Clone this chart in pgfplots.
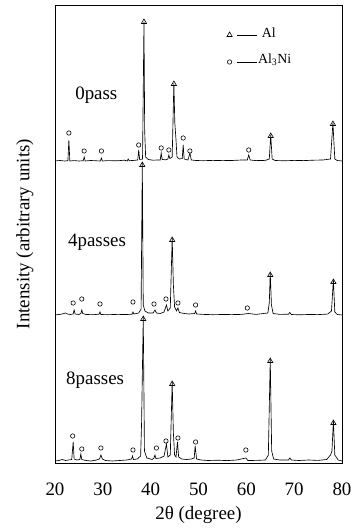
\documentclass[border=0pt]{standalone}
\usepackage{pgfplots}
\pgfplotsset{compat=1.18}
\usepackage{fontspec}
\setmainfont{Liberation Serif}
\begin{document}
\begin{tikzpicture}
\begin{axis}[
  scale only axis, width=287bp, height=458bp,
  xmin=20, xmax=80, ymin=0, ymax=458,
  xtick={20,30,...,80}, ytick=\empty,
  major tick length=0pt,
  axis line style={line width=0.7pt},
  /pgf/number format/assume math mode=true,
  ticklabel style={font=\fontsize{19}{22}\selectfont},
  xticklabel style={yshift=-16bp},
  label style={font=\fontsize{19}{22}\selectfont},
  xlabel={2θ (degree)},
  ylabel={Intensity (arbitrary units)},
  xlabel style={at={(axis description cs:0.5,-0.1135)}, anchor=center},
  ylabel style={at={(axis description cs:-0.105,0.5)}, anchor=center, rotate=0},
  clip=false,
]
% 0 pass
\addplot[black, line width=0.65pt] coordinates {
(20,302)(21,302.5)(22,302)(22.7,302.3)(22.9,323)(23.1,302)(24,302.4)(25,302)(25.9,302.3)(26.1,306)(26.3,302)
(27.5,302.5)(29.5,302)(29.7,305)(29.9,302)(31,302.4)(33,302.2)(34.5,302.8)(35.1,302)(35.3,304)(35.5,302.3)
(36.5,302.6)(37.3,303)(37.5,313)(37.7,303.5)(38.3,304)(38.6,441)(38.75,332)(38.95,306)(39.5,303.5)(40.5,302.8)
(41.5,303)(42.0,303)(42.2,310)(42.4,303.5)(43.2,303.2)(43.6,304)(43.8,308)(44.0,304.5)(44.5,306)(44.85,380)
(45.05,340)(45.3,323)(45.5,306)(46.0,304)(46.6,304.5)(46.8,318)(47.0,304)(47.8,303)(48.2,310)(48.5,303)
(49.5,302.5)(51,302.3)(53,302.6)(55,302.4)(57,302.5)(59,303)(60.2,303)(60.5,308)(60.8,303)(62,302.4)
(64,302.6)(64.8,304)(65.1,328)(65.4,304)(66,302.5)(68,302.2)(70,302.6)(72,302.4)(74,302.8)(76,303)
(77.6,304)(78.1,340)(78.5,304)(79,302.5)(80,302)};
% 4 passes
\addplot[black, line width=0.65pt] coordinates {
(20,148)(20.8,148.5)(21.5,149)(22.2,150)(22.6,149)(23.2,148.5)(23.8,149)(24.0,153)(24.2,149)(25.0,148.5)
(25.4,149.5)(25.6,153)(25.8,149.5)(26.5,148.5)(28,148.3)(29.2,148.8)(29.4,151)(29.6,148.5)(31,148.3)
(33,148.6)(35,148.5)(36.1,148.8)(36.3,151)(36.5,149)(37.5,150)(38.0,154)(38.25,300)(38.45,158)(38.8,152)
(39.5,150)(40.5,150)(40.9,153)(41.2,150)(42.0,149.5)(42.8,151)(43.3,158)(43.6,152)(44.1,155)(44.5,225)
(44.75,178)(45.0,156)(45.4,152)(45.7,155)(46.0,150.5)(47,149.5)(48,149)(49.2,149.5)(49.4,152)(49.6,149)
(51,148.6)(53,148.3)(55,148.5)(57,148.4)(59,148.6)(60.4,149.5)(62,148.6)(64.5,150)(64.8,160)(65.0,190)
(65.25,158)(65.6,149.5)(67,148.6)(68.8,148.8)(69.1,150.5)(69.4,148.5)(71,148.2)(73,148.5)(75,148.4)
(77,148.9)(77.8,152)(78.2,183)(78.5,151)(79,148.5)(80,148)};
% 8 passes
\addplot[black, line width=0.65pt] coordinates {
(20,2)(20.8,2.5)(21.5,3.5)(22.2,2.5)(22.8,3)(23.5,3.5)(23.8,21)(24.0,4)(24.6,3)(25.2,3.5)(25.4,9)(25.6,3.5)
(26.5,2.5)(27.5,2)(28.5,2.8)(29.3,4)(29.6,8)(29.9,4)(30.5,2.5)(32,2)(33.5,2.5)(35,3)(36.0,4)(36.2,7)
(36.4,3.5)(37.2,4)(37.9,7)(38.1,40)(38.45,146)(38.7,12)(39.2,5)(40.3,3.5)(40.7,5)(40.9,8)(41.1,4.5)(42,5)
(42.8,7)(43.3,19)(43.6,6)(44.1,8)(44.5,81)(44.75,30)(45.0,8)(45.3,6)(45.6,21)(45.85,6)(46.5,4)(47.5,3.5)
(48.5,4)(49.1,5)(49.3,17)(49.6,4)(50.5,3)(52,2.5)(54,2.8)(56,2.4)(58,3)(59.9,5)(60.3,2.5)(62,2.6)(64.0,3)
(64.6,8)(65.0,104)(65.3,12)(65.7,4)(67,3)(68.8,3)(69.1,5)(69.4,3)(71,2.5)(73,3)(75,2.6)(76.8,3.5)(77.6,8)
(77.9,12)(78.2,42)(78.5,8)(79.2,3)(80,2)};
% Al markers
\addplot[black, only marks, mark=triangle, mark size=3bp, mark options={line width=0.6pt}] coordinates {
(38.6,441)(44.85,379)(65.1,327)(78.1,339)
(38.25,298)(44.5,223)(65.0,188)(78.2,181)
(38.45,144)(44.5,79)(65.0,102)(78.2,40)
(56.5,428)};
% Al3Ni markers
\addplot[black, only marks, mark=o, mark size=2.2bp, mark options={line width=0.6pt}] coordinates {
(22.9,330)(26.1,312)(29.7,312)(37.5,318)(42.2,315)(43.8,313)(46.8,325)(48.2,312)(60.5,313)
(23.8,160)(25.6,164)(29.4,159)(36.3,161)(40.7,159)(43.2,164)(45.7,160)(49.4,158)(60.2,155)
(23.7,27)(25.6,14)(29.6,15)(36.3,13)(41.2,15)(43.2,22)(45.7,25)(49.4,21)(59.9,13)
(56.5,401)};
% legend dashes
\addplot[black, line width=0.4pt] coordinates {(58.0,428)(62.2,428)};
\addplot[black, line width=0.4pt] coordinates {(58.0,401)(62.2,401)};
\node[anchor=west, font=\fontsize{14}{16}\selectfont, inner sep=0pt] at (axis cs:63.2,430) {Al};
\node[anchor=west, font=\fontsize{14}{16}\selectfont, inner sep=0pt] at (axis cs:62.4,403) {Al\textsubscript{3}Ni};
% sample labels
\node[anchor=west, font=\fontsize{19}{22}\selectfont, inner sep=0pt] at (axis cs:24.2,368) {0pass};
\node[anchor=west, font=\fontsize{19}{22}\selectfont, inner sep=0pt] at (axis cs:22.7,221) {4passes};
\node[anchor=west, font=\fontsize{19}{22}\selectfont, inner sep=0pt] at (axis cs:22.3,83) {8passes};
\end{axis}
\pgfresetboundingbox
\path (current axis.south west) ++(-55bp,-67bp) rectangle ([shift={(14bp,5bp)}]current axis.north east);
\end{tikzpicture}
\end{document}
